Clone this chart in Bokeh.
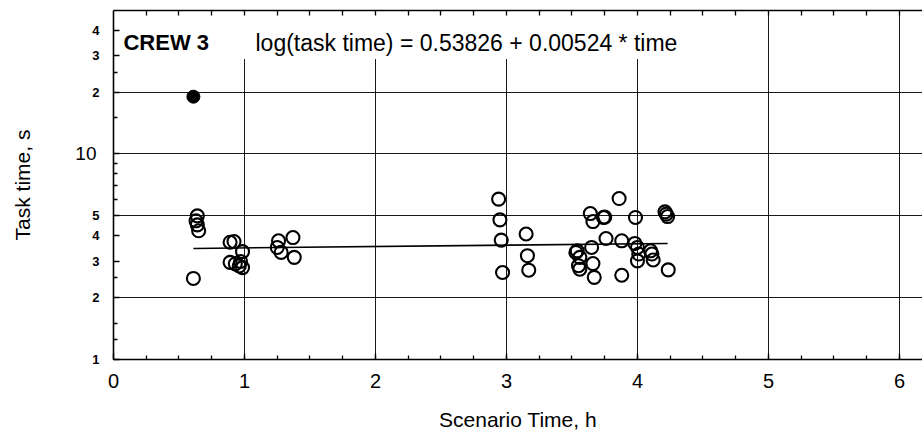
from bokeh.plotting import figure
from bokeh.models import FixedTicker, LinearAxis, LogAxis, Label, BoxAnnotation
from bokeh.embed import file_html
from bokeh.resources import INLINE

# ---------------- data ----------------
open_x = [0.64, 0.63, 0.64, 0.65, 0.61,
          0.89, 0.92, 0.985, 0.89, 0.93, 0.97, 0.985, 0.96,
          1.26, 1.37, 1.25, 1.28, 1.38,
          2.94, 2.95, 2.96, 2.97, 3.15, 3.16, 3.17,
          3.64, 3.66, 3.74, 3.75, 3.86, 3.985, 4.21, 4.22, 4.23,
          3.76, 3.88, 3.65, 3.54, 3.53, 3.56, 3.55, 3.56, 3.66, 3.67, 3.88,
          3.98, 4.00, 4.01, 4.00, 4.10, 4.11, 4.12, 4.235]
open_y = [5.0, 4.73, 4.52, 4.23, 2.48,
          3.72, 3.75, 3.35, 2.97, 2.92, 3.0, 2.8, 2.85,
          3.78, 3.92, 3.51, 3.32, 3.14,
          6.03, 4.78, 3.81, 2.65, 4.08, 3.2, 2.72,
          5.13, 4.69, 4.91, 4.93, 6.07, 4.91, 5.23, 5.10, 4.96,
          3.88, 3.78, 3.51, 3.38, 3.32, 3.14, 2.86, 2.75, 2.93, 2.51, 2.57,
          3.67, 3.51, 3.26, 3.02, 3.38, 3.26, 3.05, 2.73]
filled_x = [0.61]
filled_y = [19.0]
fit_x = [0.61, 4.23]
fit_y = [3.47, 3.67]

x_major = [0, 1, 2, 3, 4, 5, 6]
x_minor = [0.25, 0.5, 0.75, 1, 1.25, 1.5, 1.75, 2, 2.25, 2.5, 2.75, 3, 3.25,
           3.5, 3.75, 4, 4.25, 4.5, 4.75, 5, 5.25, 5.5, 5.75, 6]
x_grid = [1, 2, 3, 4, 5, 6]
y_major = [1, 2, 3, 4, 5, 10, 20, 30, 40]
y_minor = [1.25, 1.5, 2.5, 6, 7, 8, 9, 15, 25]
y_big_tick = [10]
y_grid = [2, 5, 10, 20]
y_label_overrides = {10: "", 20: "2", 30: "3", 40: "4"}
y_big_label = {10: "10"}

title_text = "CREW 3"
equation_text = "log(task time) = 0.53826 + 0.00524 * time"
x_title = "Scenario Time, h"
y_title = "Task time, s"

FONT = "Liberation Sans"

p = figure(width=922, height=436, x_range=(0, 6.176), y_range=(1, 49.9),
           y_axis_type="log", output_backend="svg", toolbar_location=None,
           min_border_left=113, min_border_right=0, min_border_top=10,
           min_border_bottom=77, outline_line_color=None,
           background_fill_color="white", border_fill_color="white")

# grids
p.xgrid.ticker = FixedTicker(ticks=x_grid)
p.ygrid.ticker = FixedTicker(ticks=y_grid)
for g in (p.xgrid, p.ygrid):
    g.grid_line_color = "black"
    g.grid_line_width = 1
    g.grid_line_alpha = 0.9

# white mask behind the header text (grid lines stop below it)
p.add_layout(BoxAnnotation(left=0, right=4.6, bottom=29, top=49.9,
                           fill_color="white", fill_alpha=1,
                           line_color=None, level="underlay"))

# bottom axis
xa = p.xaxis[0]
xa.ticker = FixedTicker(ticks=x_major, minor_ticks=x_minor)
xa.axis_label = x_title
# left axis (small bold labels)
ya = p.yaxis[0]
ya.ticker = FixedTicker(ticks=y_major, minor_ticks=y_minor)
ya.major_label_overrides = y_label_overrides

for ax in (xa, ya):
    ax.axis_line_color = "black"
    ax.axis_line_width = 1.6
    ax.major_tick_in = 6
    ax.major_tick_out = 0
    ax.minor_tick_in = 4
    ax.minor_tick_out = 0
    ax.major_tick_line_color = "black"
    ax.minor_tick_line_color = "black"
    ax.major_tick_line_width = 1.3
    ax.minor_tick_line_width = 1.3
    ax.axis_label_text_font = FONT
    ax.axis_label_text_font_style = "normal"
    ax.axis_label_text_font_size = "21px"
    ax.axis_label_text_color = "black"
    ax.major_label_text_font = FONT
    ax.major_label_text_color = "black"

xa.major_label_text_font_size = "20px"
xa.major_label_standoff = 14
xa.axis_label_standoff = 17
ya.major_label_text_font_size = "13px"
ya.major_label_text_font_style = "bold"
ya.major_label_standoff = 14

# second left axis carrying the larger "10" label and the axis title
ya2 = LogAxis(ticker=FixedTicker(ticks=y_big_tick, minor_ticks=[]),
              major_label_overrides=y_big_label,
              axis_line_color=None, major_tick_line_color=None,
              minor_tick_line_color=None, major_tick_in=0, major_tick_out=0,
              minor_tick_in=0, minor_tick_out=0,
              major_label_standoff=-7, major_label_text_font=FONT,
              major_label_text_font_size="19px", major_label_text_color="black",
              axis_label=y_title, axis_label_text_font=FONT,
              axis_label_text_font_style="normal",
              axis_label_text_font_size="21px", axis_label_text_color="black",
              axis_label_standoff=38)
p.add_layout(ya2, "left")

# top border with inward ticks
top = LinearAxis(ticker=FixedTicker(ticks=[], minor_ticks=x_minor),
                 axis_line_color="black", axis_line_width=1.6,
                 major_tick_in=0, major_tick_out=0,
                 minor_tick_in=5, minor_tick_out=0,
                 minor_tick_line_color="black", minor_tick_line_width=1.3,
                 major_label_standoff=0, major_label_text_font_size="0px")
p.add_layout(top, "above")

# regression line
p.line(fit_x, fit_y, line_color="black", line_width=1.6)

# points
p.scatter(x=open_x, y=open_y, marker="circle", size=13,
          fill_alpha=0, line_color="black", line_width=2.1)
p.scatter(x=filled_x, y=filled_y, marker="circle", size=13,
          fill_color="black", line_color="black", line_width=1)

# header texts
p.add_layout(Label(x=0.076, y=34.8, text=title_text, text_font=FONT,
                   text_font_style="bold", text_font_size="22px",
                   text_baseline="alphabetic", text_color="black"))
p.add_layout(Label(x=1.084, y=34.8, text=equation_text, text_font=FONT,
                   text_font_size="23px", text_baseline="alphabetic",
                   text_color="black"))

open("out.html", "w").write(file_html(p, INLINE))
